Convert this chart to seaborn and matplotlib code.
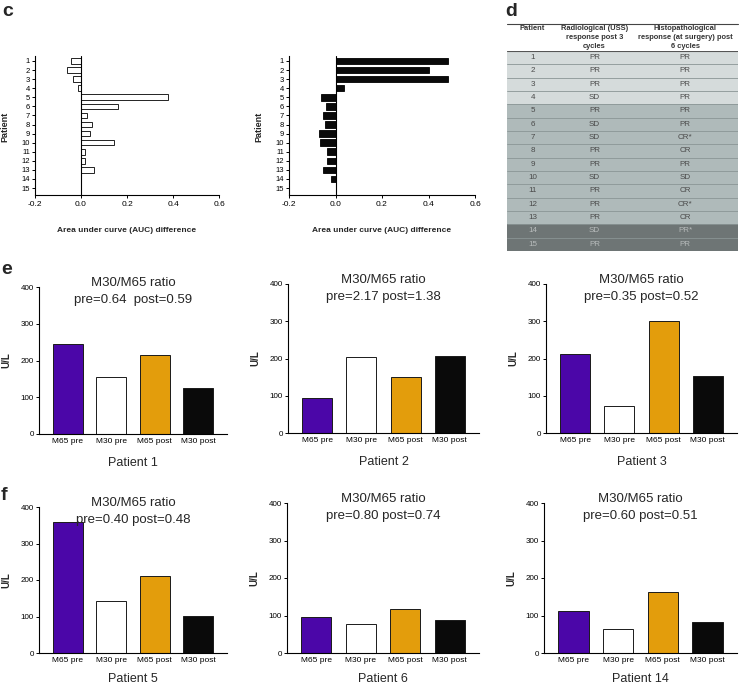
import numpy as np
import pandas as pd
import matplotlib
matplotlib.use("Agg")
import matplotlib.pyplot as plt
import seaborn as sns

# ---- data ----
# panel c: AUC difference per patient
patients = [str(i) for i in range(1, 16)]
auc_open = [-0.042, -0.063, -0.036, -0.015, 0.378, 0.159, 0.024, 0.046,
            0.037, 0.142, 0.016, 0.016, 0.056, 0.002, 0.0]
auc_filled = [0.483, 0.400, 0.483, 0.037, -0.062, -0.043, -0.052, -0.045,
              -0.069, -0.066, -0.037, -0.037, -0.052, -0.019, 0.0]
auc_ticks = [-0.2, 0.0, 0.2, 0.4, 0.6]

# panel d: response table
table_header = ["Patient", "Radiological (USS)\nresponse post 3\ncycles",
                "Histopathological\nresponse (at surgery) post\n6 cycles"]
radiological = ["PR", "PR", "PR", "SD", "PR", "SD", "SD", "PR", "PR", "SD",
                "PR", "PR", "PR", "SD", "PR"]
histopath = ["PR", "PR", "PR", "PR", "PR", "PR", "CR*", "CR", "PR", "SD",
             "CR", "CR*", "CR", "PR*", "PR"]
row_group = [0] * 4 + [1] * 9 + [2] * 2

# panels e/f: M65 / M30 in U/L
markers = ["M65 pre", "M30 pre", "M65 post", "M30 post"]
panel_names = ["Patient 1", "Patient 2", "Patient 3",
               "Patient 5", "Patient 6", "Patient 14"]
panel_ratios = ["pre=0.64  post=0.59", "pre=2.17 post=1.38", "pre=0.35 post=0.52",
                "pre=0.40 post=0.48", "pre=0.80 post=0.74", "pre=0.60 post=0.51"]
p1 = [245, 155, 214, 125]
p2 = [94, 205, 149, 206]
p3 = [211, 72, 300, 154]
p5 = [359, 142, 211, 101]
p6 = [97, 77, 118, 87]
p14 = [111, 65, 163, 82]
panel_values = [p1, p2, p3, p5, p6, p14]
y_ticks = [0, 100, 200, 300, 400]

# ---- style ----
sns.set_theme(style="ticks")
plt.rcParams["font.family"] = ["Liberation Sans", "DejaVu Sans"]
plt.rcParams["axes.unicode_minus"] = False
plt.rcParams["axes.linewidth"] = 0.8
plt.rcParams["axes.edgecolor"] = "black"
plt.rcParams["xtick.color"] = "black"
plt.rcParams["ytick.color"] = "black"

W, H = 739, 684
fig = plt.figure(figsize=(W / 100, H / 100), dpi=100)
fig.patch.set_facecolor("white")


def rect(l, t, r, b):
    return [l / W, 1 - b / H, (r - l) / W, (b - t) / H]


def ftext(x, y, s, **kw):
    fig.text(x / W, 1 - y / H, s, **kw)


letter_kw = dict(fontsize=14, fontweight="bold", ha="center", va="center")

# ---- panel c ----
def auc_panel(box, values, face, bar_w):
    l, t, r, b = box
    ax = fig.add_axes(rect(l, t, r, b))
    df = pd.DataFrame({"patient": patients, "auc": values})
    sns.barplot(data=df, x="auc", y="patient", orient="h", color=face,
                saturation=1, width=bar_w, edgecolor="black", linewidth=0.6, ax=ax)
    ax.axvline(0, color="black", lw=0.8)
    ax.set_xlim(-0.2, 0.6)
    ax.set_ylim(14.77, -0.55)
    ax.set_xticks(auc_ticks)
    ax.set_xticklabels([f"{v:.1f}" for v in auc_ticks])
    ax.tick_params(axis="x", length=2.5, width=0.7, labelsize=6, pad=2)
    ax.tick_params(axis="y", length=2.5, width=0.7, labelsize=5.5, pad=1)
    ax.set_xlabel("")
    ax.set_ylabel("")
    sns.despine(ax=ax)
    ftext(l - 30, 127, "Patient", rotation=90, fontsize=6.5, fontweight="bold",
          ha="center", va="center")
    ftext((l + r) / 2, 230, "Area under curve (AUC) difference", fontsize=6,
          fontweight="bold", ha="center", va="center")
    return ax


auc_panel((35, 56, 219, 195), auc_open, "white", 0.62)
auc_panel((289, 56, 475, 195), auc_filled, "#0a0a0a", 0.72)
ftext(8, 12, "c", **letter_kw)

# ---- panel d: table ----
tl, tr, tt, tb = 506.7, 738, 51, 251
tax = fig.add_axes(rect(tl, tt, tr, tb))
tax.set_xlim(0, 1)
tax.set_ylim(15, 0)
tax.axis("off")
shades = ["#d5dbdb", "#afbaba", "#6e7575"]
text_cols = ["#4a4a4a", "#4a4a4a", "#b8bcbc"]
col_x = [0.112, 0.380, 0.772]
for i, (pat, rad, his, g) in enumerate(zip(patients, radiological, histopath, row_group)):
    tax.axhspan(i, i + 1, color=shades[g], lw=0)
    for cx, s in zip(col_x, [pat, rad, his]):
        tax.text(cx, i + 0.5, s, ha="center", va="center", fontsize=5.8,
                 color=text_cols[g])
for i in range(1, 15):
    tax.axhline(i, color="#8a9595", lw=0.6)
tax.axhline(0, color="#555555", lw=0.8)
fig.add_artist(plt.Line2D([tl / W, tr / W], [1 - 24 / H, 1 - 24 / H],
                          color="#444444", lw=0.8))
for cx, s in zip(col_x, table_header):
    ftext(tl + cx * (tr - tl), 25, s, ha="center", va="top", fontsize=5.4,
          fontweight="bold", color="#333333", linespacing=1.4)
ftext(511, 11, "d", **letter_kw)

# ---- panels e/f ----
bar_colors = dict(zip(markers, ["#4b06a8", "white", "#e39d0c", "#0a0a0a"]))
boxes = [(39, 287, 227, 434), (288, 284, 479, 433), (546, 284, 737, 433),
         (39, 507, 227, 653), (287, 503, 479, 653), (544, 503, 737, 653)]
name_gap = [29, 29, 29, 26, 26, 26]
for box, vals, name, ratio, gap in zip(boxes, panel_values, panel_names,
                                       panel_ratios, name_gap):
    l, t, r, b = box
    ax = fig.add_axes(rect(l, t, r, b))
    sns.barplot(x=markers, y=vals, hue=markers, palette=bar_colors, legend=False,
                saturation=1, width=0.68, edgecolor="#1a1a1a", linewidth=0.7, ax=ax)
    ax.set_ylim(0, 400)
    ax.set_xlim(-0.66, 3.66)
    ax.set_yticks(y_ticks)
    ax.tick_params(axis="x", length=0, labelsize=6, pad=3)
    ax.tick_params(axis="y", length=2.5, width=0.7, labelsize=5.8, pad=1)
    ax.set_xlabel("")
    ax.set_ylabel("")
    sns.despine(ax=ax)
    cx = (l + r) / 2
    ftext(cx, t - 4, "M30/M65 ratio", ha="center", va="center", fontsize=9.5)
    ftext(cx, t + 13, ratio, ha="center", va="center", fontsize=9.5)
    ftext(cx, b + gap, name, ha="center", va="center", fontsize=9)
    ftext(l - 33, (t + b) / 2, "U/L", rotation=90, ha="center", va="center",
          fontsize=7, fontweight="bold")

ftext(7, 270, "e", **letter_kw)
ftext(4, 496, "f", **letter_kw)

fig.savefig("out.png", dpi=100, facecolor="white")
